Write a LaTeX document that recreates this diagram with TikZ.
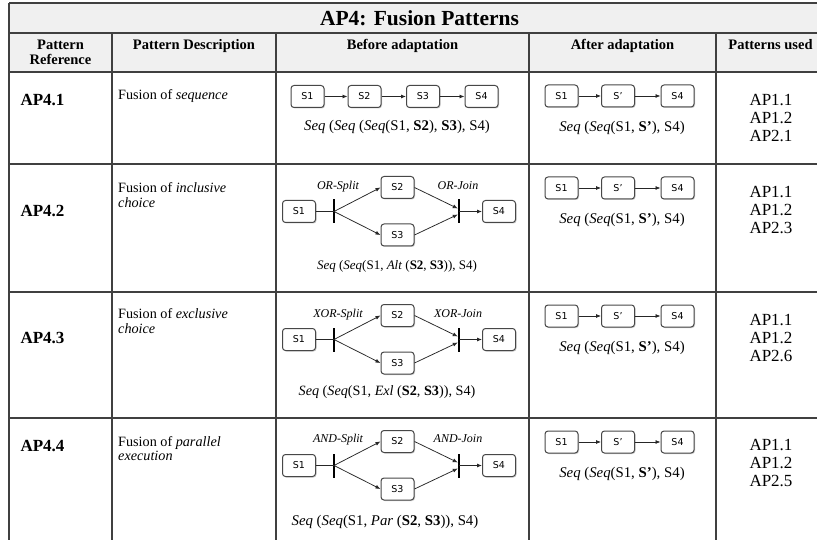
\documentclass[tikz,border=0pt]{standalone}
\usepackage{fontspec}
\setmainfont{Liberation Serif}
\newfontfamily\svfont{DejaVu Sans}
\usetikzlibrary{arrows.meta,shadows}
\begin{document}
\begin{tikzpicture}[x=1pt,y=-1pt,
  svc/.style={draw=black!72, line width=1pt, rounded corners=3pt, fill=white,
    minimum width=33pt, minimum height=22pt, inner sep=0pt,
    font=\svfont\fontsize{9.5}{10}\selectfont,
    drop shadow={shadow xshift=1pt, shadow yshift=-1pt, opacity=0.4}},
  gatebar/.style={fill=black, draw=none, minimum width=2pt, minimum height=24pt, inner sep=0pt},
  flow/.style={-{Latex[length=5pt,width=4pt]}, line width=0.75pt, black!85},
  plain/.style={line width=0.75pt, black!85},
  tline/.style={draw=black!75, line width=1.2pt},
  hdr/.style={font=\bfseries\fontsize{14.5}{15}\selectfont, anchor=base},
  refl/.style={font=\bfseries\fontsize{17}{18}\selectfont, anchor=base west},
  desc/.style={font=\fontsize{14.2}{15}\selectfont, anchor=base west, inner sep=0pt},
  used/.style={font=\fontsize{17}{18}\selectfont, anchor=base, inner sep=0pt},
  gate/.style={font=\itshape\fontsize{12}{13}\selectfont, anchor=base, inner sep=0pt},
  expr/.style={font=\fontsize{14.8}{16}\selectfont, anchor=base, inner sep=0pt},
]
\clip (0,0) rectangle (817,540);
\fill[white] (0,0) rectangle (817,540);
\fill[black!6] (9,3) rectangle (830,72);
% table rules
\foreach \yy in {3,33,72,164,292,418} \draw[tline] (9,\yy) -- (830,\yy);
\draw[tline] (9,3) -- (9,545);
\foreach \xx in {112,276,529,716} \draw[tline] (\xx,33) -- (\xx,545);
% title and headers
\node[font=\bfseries\fontsize{21.5}{23}\selectfont, anchor=base] (title) at (419.5,26) {AP4: Fusion Patterns};
\node[hdr] (h1a) at (60.5,50) {Pattern};
\node[hdr] (h1b) at (60.5,65) {Reference};
\node[hdr] (h2) at (194,50) {Pattern Description};
\node[hdr] (h3) at (402.5,50) {Before adaptation};
\node[hdr] (h4) at (622.5,50) {After adaptation};
\node[hdr] (h5) at (770.5,50) {Patterns used};
% references
\node[refl] (ref1) at (17,106) {AP4.1};
\node[refl] (ref2) at (17,217) {AP4.2};
\node[refl] (ref3) at (17,343) {AP4.3};
\node[refl] (ref4) at (17,451) {AP4.4};
% descriptions
\node[desc] (d1) at (118,100) {Fusion of \textit{sequence}};
\node[desc] (d2a) at (118,193) {Fusion of \textit{inclusive}};
\node[desc] (d2b) at (118,208) {\textit{choice}};
\node[desc] (d3a) at (118,319) {Fusion of \textit{exclusive}};
\node[desc] (d3b) at (118,334) {\textit{choice}};
\node[desc] (d4a) at (118,446) {Fusion of \textit{parallel}};
\node[desc] (d4b) at (118,460) {\textit{execution}};
% patterns used
\foreach \r/\b/\last in {1/106/AP2.1, 2/198/AP2.3, 3/325/AP2.6, 4/450/AP2.5} {
  \node[used] (u\r a) at (771,\b) {AP1.1};
  \node[used] (u\r b) at (771,\b+18) {AP1.2};
  \node[used] (u\r c) at (771,\b+36) {\last};
}
% row 1 before: sequence
\node[svc] (q1) at (307.5,96.5) {S1};
\node[svc] (q2) at (364.5,96.5) {S2};
\node[svc] (q3) at (423,96.5) {S3};
\node[svc] (q4) at (481.5,96.5) {S4};
\draw[flow] (q1.east) -- (q2.west);
\draw[flow] (q2.east) -- (q3.west);
\draw[flow] (q3.east) -- (q4.west);
\node[expr] (f1) at (397,131) {\textit{Seq} (\textit{Seq} (\textit{Seq}(S1, \textbf{S2}), \textbf{S3}), S4)};
% rows 2-4 before: split / join
\foreach \r/\t/\g/\op/\fs/\fx/\fb/\gb in {2/164/OR/Alt/13/397/270/190, 3/292/XOR/Exl/14.2/387/395/317, 4/418/AND/Par/14.8/385/525/442} {
  \node[svc] (s1r\r) at (299,\t+47.5) {S1};
  \node[svc] (s2r\r) at (397.5,\t+23.5) {S2};
  \node[svc] (s3r\r) at (397.5,\t+71) {S3};
  \node[svc] (s4r\r) at (499,\t+47.5) {S4};
  \node[gatebar] (spr\r) at (334,\t+47.5) {};
  \node[gatebar] (jnr\r) at (459,\t+47.5) {};
  \node[gate] (gsr\r) at (338,\gb) {\g-Split};
  \node[gate] (gjr\r) at (458,\gb) {\g-Join};
  \draw[plain] (s1r\r.east) -- (spr\r.center);
  \draw[flow] (spr\r.center) -- (s2r\r.west);
  \draw[flow] (spr\r.center) -- (s3r\r.west);
  \draw[flow] (s2r\r.east) -- ([yshift=3pt]jnr\r.west);
  \draw[flow] (s3r\r.east) -- ([yshift=-3pt]jnr\r.west);
  \draw[flow] (jnr\r.center) -- (s4r\r.west);
  \node[expr, font=\fontsize{\fs}{16}\selectfont] (fr\r) at (\fx,\fb) {\textit{Seq} (\textit{Seq}(S1, \textit{\op} (\textbf{S2}, \textbf{S3})), S4)};
}
% after adaptation
\foreach \r/\t in {1/72, 2/164, 3/292, 4/418} {
  \node[svc] (a1r\r) at (561.5,\t+24) {S1};
  \node[svc] (a2r\r) at (618,\t+24) {S’};
  \node[svc] (a3r\r) at (677.5,\t+24) {S4};
  \draw[flow] (a1r\r.east) -- (a2r\r.west);
  \draw[flow] (a2r\r.east) -- (a3r\r.west);
  \node[expr] (ar\r) at (622,\t+59.5) {\textit{Seq} (\textit{Seq}(S1, \textbf{S’}), S4)};
}
\end{tikzpicture}
\end{document}
